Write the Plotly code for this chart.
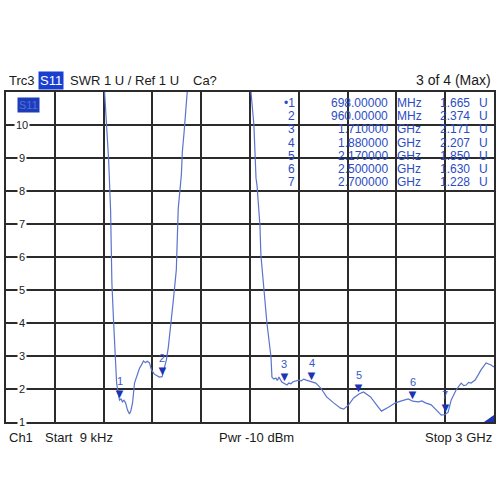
import plotly.graph_objects as go

# ---- data (frequency in GHz, SWR in U) ----
freq_ghz = [0.606, 0.618, 0.631, 0.643, 0.649, 0.651, 0.661, 0.673, 0.680, 0.690, 0.698,
            0.707, 0.716, 0.725, 0.735, 0.747, 0.759, 0.768, 0.778, 0.790, 0.808, 0.820,
            0.833, 0.845, 0.857, 0.869, 0.882, 0.894, 0.912, 0.930, 0.943, 0.960,
            0.972, 0.986, 0.998, 1.016, 1.029, 1.047, 1.059, 1.078, 1.084, 1.096, 1.114,
            None,
            1.506, 1.524, 1.537, 1.543, 1.561, 1.567, 1.586, 1.604, 1.629, 1.635, 1.647,
            1.659, 1.668, 1.678, 1.696, 1.710, 1.727, 1.739, 1.751, 1.765, 1.782, 1.800,
            1.815, 1.831, 1.846, 1.861, 1.880, 1.904, 1.935, 1.971, 2.014, 2.057, 2.076,
            2.106, 2.137, 2.170, 2.198, 2.241, 2.278, 2.308, 2.351, 2.394, 2.431, 2.452,
            2.473, 2.500, 2.535, 2.557, 2.578, 2.614, 2.645, 2.676, 2.700, 2.718, 2.737,
            2.767, 2.798, 2.814, 2.829, 2.844, 2.859, 2.884, 2.902, 2.920, 2.951, 2.967,
            2.982, 3.000]
swr = [11.0, 10.15, 8.94, 7.42, 6.06, 5.21, 4.09, 2.88, 2.18, 1.85, 1.665,
       1.70, 1.61, 1.66, 1.58, 1.36, 1.24, 1.35, 1.58, 2.18, 2.48, 2.62,
       2.73, 2.85, 2.80, 2.84, 2.79, 2.58, 2.45, 2.40, 2.36, 2.374,
       2.60, 2.88, 3.27, 4.00, 4.70, 5.61, 7.48, 8.48, 9.18, 9.85, 11.0,
       None,
       11.0, 10.0, 8.39, 8.18, 6.97, 6.06, 5.00, 4.00, 2.97, 2.36, 2.30,
       2.33, 2.26, 2.36, 2.21, 2.171, 2.12, 2.18, 2.16, 2.22, 2.24, 2.27,
       2.25, 2.30, 2.27, 2.25, 2.207, 2.18, 2.03, 1.76, 1.58, 1.42, 1.39,
       1.52, 1.73, 1.85, 1.91, 1.76, 1.52, 1.33, 1.45, 1.58, 1.64, 1.68,
       1.70, 1.63, 1.61, 1.64, 1.58, 1.52, 1.36, 1.21, 1.228, 1.30, 1.67,
       1.97, 2.18, 2.10, 2.12, 2.20, 2.18, 2.27, 2.42, 2.58, 2.79, 2.76,
       2.73, 2.67]

marker_ids = ["1", "2", "3", "4", "5", "6", "7"]
marker_freq_ghz = [0.698, 0.960, 1.710, 1.880, 2.170, 2.500, 2.700]
marker_swr = [1.665, 2.374, 2.171, 2.207, 1.850, 1.630, 1.228]
marker_freq_text = ["698.00000", "960.00000", "1.710000", "1.880000",
                    "2.170000", "2.500000", "2.700000"]
marker_unit = ["MHz", "MHz", "GHz", "GHz", "GHz", "GHz", "GHz"]
marker_val_text = ["1.665", "2.374", "2.171", "2.207", "1.850", "1.630", "1.228"]

y_ticks = [1, 2, 3, 4, 5, 6, 7, 8, 9, 10]
x_range = [0, 3.0]
y_range = [1, 11]

# ---- layout geometry helpers (pixels -> paper) ----
L, R, T, B = 6, 496, 92, 422
def px(xp):
    return (xp - L) / (R - L)
def py(yp):
    return (B - yp) / (B - T)

FONT = "Liberation Sans, Arial, sans-serif"
TRACE = "#5a74cc"
MK = "#1a34b4"
TXTBLUE = "#2a4cc4"
GRID = "#2b2b2b"

fig = go.Figure()
fig.add_trace(go.Scatter(x=freq_ghz, y=swr, mode="lines", connectgaps=False,
                         line=dict(color=TRACE, width=1.2),
                         hoverinfo="skip", showlegend=False, cliponaxis=True))

ann = []
# marker triangles and numbers on trace
for mid, f, v in zip(marker_ids, marker_freq_ghz, marker_swr):
    ann.append(dict(x=f, y=v, xref="x", yref="y", text="▼", showarrow=False,
                    yanchor="bottom", yshift=-3, font=dict(size=13, color=MK, family=FONT)))
    ann.append(dict(x=f, y=v, xref="x", yref="y", text=mid, showarrow=False,
                    yanchor="bottom", yshift=11, font=dict(size=11, color="#3a58c8", family=FONT)))

# y tick labels inside plot with white background
for t in y_ticks:
    ann.append(dict(x=px(22), y=t, xref="paper", yref="y", text=str(t), showarrow=False,
                    xanchor="center", yanchor="middle", bgcolor="white", borderpad=1,
                    font=dict(size=11, color="#222", family=FONT)))

# marker table
for i, (mid, ft, un, vt) in enumerate(zip(marker_ids, marker_freq_text, marker_unit, marker_val_text)):
    yy = py(103 + 13.2 * i)
    label = ("•" + mid) if i == 0 else mid
    f = dict(size=12, color=TXTBLUE, family=FONT)
    ann.append(dict(x=px(298), y=yy, xref="paper", yref="paper", text=label, showarrow=False,
                    xanchor="right", yanchor="middle", font=f))
    ann.append(dict(x=px(392), y=yy, xref="paper", yref="paper", text=ft, showarrow=False,
                    xanchor="right", yanchor="middle", font=f))
    ann.append(dict(x=px(397), y=yy, xref="paper", yref="paper", text=un, showarrow=False,
                    xanchor="left", yanchor="middle", font=f))
    ann.append(dict(x=px(474), y=yy, xref="paper", yref="paper", text=vt, showarrow=False,
                    xanchor="right", yanchor="middle", font=f))
    ann.append(dict(x=px(479), y=yy, xref="paper", yref="paper", text="U", showarrow=False,
                    xanchor="left", yanchor="middle", font=f))

# S11 tag inside plot
ann.append(dict(x=px(17), y=py(105), xref="paper", yref="paper", text="S11", showarrow=False,
                xanchor="left", yanchor="middle", bgcolor="#1f3cb8", borderpad=1,
                font=dict(size=11, color="#4c70e6", family=FONT)))

# header row
hy = py(80)
hf = dict(size=13, color="#1a1a1a", family=FONT)
ann.append(dict(x=px(7), y=hy, xref="paper", yref="paper", text="Trc3", showarrow=False,
                xanchor="left", yanchor="middle", font=hf))
ann.append(dict(x=px(38), y=hy, xref="paper", yref="paper", text="S11", showarrow=False,
                xanchor="left", yanchor="middle", bgcolor="#1a3fd0", borderpad=1,
                font=dict(size=13, color="white", family=FONT)))
ann.append(dict(x=px(68), y=hy, xref="paper", yref="paper", text="SWR 1 U / Ref 1 U", showarrow=False,
                xanchor="left", yanchor="middle", font=hf))
ann.append(dict(x=px(192), y=hy, xref="paper", yref="paper", text="Ca?", showarrow=False,
                xanchor="left", yanchor="middle", font=hf))
ann.append(dict(x=px(495), y=hy, xref="paper", yref="paper", text="3 of 4 (Max)", showarrow=False,
                xanchor="right", yanchor="middle", font=dict(size=14, color="#1a1a1a", family=FONT)))

# footer row
fy = py(437)
ann.append(dict(x=px(7), y=fy, xref="paper", yref="paper", text="Ch1", showarrow=False,
                xanchor="left", yanchor="middle", font=hf))
ann.append(dict(x=px(43), y=fy, xref="paper", yref="paper", text="Start  9 kHz", showarrow=False,
                xanchor="left", yanchor="middle", font=hf))
ann.append(dict(x=px(218), y=fy, xref="paper", yref="paper", text="Pwr -10 dBm", showarrow=False,
                xanchor="left", yanchor="middle", font=hf))
ann.append(dict(x=px(496), y=fy, xref="paper", yref="paper", text="Stop 3 GHz", showarrow=False,
                xanchor="right", yanchor="middle", font=hf))

shapes = [dict(type="path", xref="paper", yref="paper",
               path=f"M {px(486)} {py(422)} L {px(496)} {py(422)} L {px(496)} {py(415)} Z",
               fillcolor=MK, line=dict(width=0))]

fig.update_layout(
    width=500, height=500,
    margin=dict(l=L, r=500 - R, t=T, b=500 - B),
    paper_bgcolor="white", plot_bgcolor="white",
    showlegend=False,
    annotations=ann, shapes=shapes,
    xaxis=dict(range=x_range, dtick=0.3, tick0=0, showgrid=True, gridcolor=GRID, gridwidth=1.5,
               showticklabels=False, ticks="", zeroline=False,
               showline=True, linecolor=GRID, linewidth=1.5, mirror=True, fixedrange=True),
    yaxis=dict(range=y_range, dtick=1, tick0=1, showgrid=True, gridcolor=GRID, gridwidth=1.5,
               showticklabels=False, ticks="", zeroline=False,
               showline=True, linecolor=GRID, linewidth=1.5, mirror=True, fixedrange=True),
)

fig.write_html("out.html", config={"displayModeBar": False},
               post_script="document.body.style.margin='0';document.body.style.padding='0';")
